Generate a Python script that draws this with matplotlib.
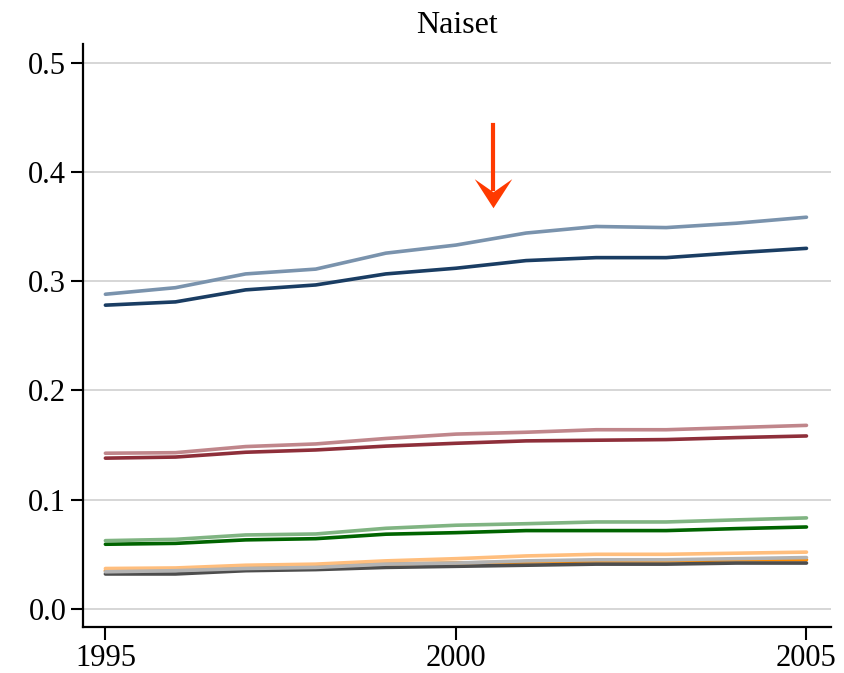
""" Naiset: share series 1995-2005 with a marker arrow. """

import numpy as np
import matplotlib.pyplot as plt
from matplotlib.path import Path

years = np.arange(1995, 2006)

# dark / light pairs
navy = [0.278, 0.281, 0.292, 0.2965, 0.3066, 0.3118, 0.3188, 0.3215, 0.3215, 0.326, 0.330]
steel = [0.288, 0.294, 0.3066, 0.311, 0.3256, 0.333, 0.344, 0.350, 0.349, 0.353, 0.3585]
dark_red = [0.138, 0.139, 0.1434, 0.1455, 0.149, 0.1516, 0.1538, 0.1544, 0.155, 0.1568, 0.1583]
rose = [0.1425, 0.143, 0.1486, 0.151, 0.156, 0.160, 0.1617, 0.164, 0.164, 0.166, 0.168]
dark_green = [0.0592, 0.060, 0.0632, 0.0643, 0.0684, 0.0698, 0.0717, 0.0717, 0.0717, 0.0735, 0.075]
light_green = [0.0625, 0.0637, 0.0677, 0.0686, 0.0738, 0.0766, 0.078, 0.0796, 0.0796, 0.0815, 0.0833]
orange = [0.035, 0.036, 0.038, 0.039, 0.041, 0.042, 0.043, 0.044, 0.044, 0.045, 0.045]
light_orange = [0.037, 0.0375, 0.040, 0.041, 0.044, 0.046, 0.0485, 0.050, 0.050, 0.051, 0.052]
dark_gray = [0.032, 0.032, 0.035, 0.036, 0.038, 0.039, 0.040, 0.041, 0.041, 0.042, 0.042]
light_gray = [0.034, 0.035, 0.037, 0.038, 0.041, 0.042, 0.044, 0.045, 0.045, 0.046, 0.047]

series = [
    (navy, '#1a3d63'),
    (steel, '#7a93ad'),
    (dark_red, '#8e2f3a'),
    (rose, '#c0868b'),
    (dark_green, '#006400'),
    (light_green, '#80b482'),
    (orange, '#ff8c00'),
    (light_orange, '#ffbe7d'),
    (dark_gray, '#4d4d4d'),
    (light_gray, '#b3b3b3'),
]

# arrow marker (x position, top and tip in data units)
arrow_x = 2000.53
arrow_top = 0.443
arrow_tip = 0.372
ARROW_COLOR = '#ff3a00'

y_ticks = [0.0, 0.1, 0.2, 0.3, 0.4, 0.5]
x_ticks = [1995, 2000, 2005]


def main():
    plt.rcParams['font.family'] = ['Liberation Serif', 'DejaVu Serif']
    fig = plt.figure(figsize=(8.44, 6.73), dpi=100)
    ax = fig.add_axes([0.0983, 0.0684, 0.8863, 0.8662])

    for yt in y_ticks:
        ax.axhline(yt, color='#d3d3d3', lw=1.3, zorder=0)

    for values, color in series:
        ax.plot(years, values, color=color, lw=2.6, solid_capstyle='round', zorder=2)

    # shaft, then concave head as a custom marker (marker centre sits 13 px above the tip)
    head_centre = arrow_tip + 0.012
    ax.plot([arrow_x, arrow_x], [arrow_top, head_centre], color=ARROW_COLOR, lw=3, zorder=3)
    head = Path([(0, -1), (-1, 0.55), (0, -0.15), (1, 0.55), (0, -1)],
                [Path.MOVETO, Path.LINETO, Path.LINETO, Path.LINETO, Path.CLOSEPOLY])
    ax.plot([arrow_x], [head_centre], marker=head, markersize=27, color=ARROW_COLOR,
            markeredgewidth=0, zorder=3)

    ax.set_xlim(1994.68, 2005.35)
    ax.set_ylim(-0.0165, 0.517)
    ax.set_xticks(x_ticks)
    ax.set_yticks(y_ticks)
    ax.set_yticklabels([f'{v:.1f}' for v in y_ticks])

    for side in ['top', 'right']:
        ax.spines[side].set_visible(False)
    for side in ['left', 'bottom']:
        ax.spines[side].set_linewidth(1.6)
    ax.tick_params(axis='both', length=9, width=1.5, labelsize=22, pad=3)

    ax.set_title('Naiset', fontsize=23, pad=8)

    fig.savefig('out.png', dpi=100)


if __name__ == "__main__":
    main()
